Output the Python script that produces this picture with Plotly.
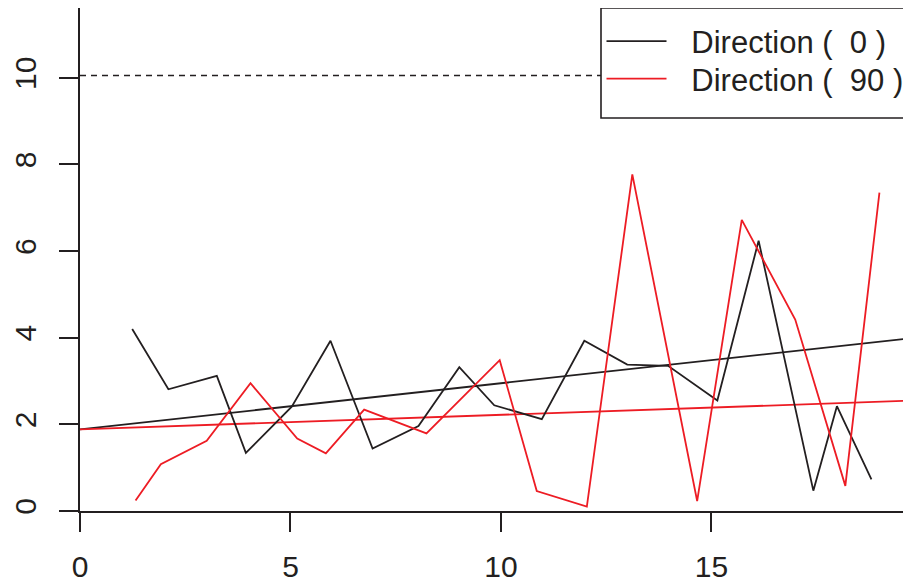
import plotly.graph_objects as go

# ---- data ----
dir0_x = [1.24, 2.10, 3.25, 3.94, 5.03, 5.95, 6.95, 8.04, 9.01, 9.84, 10.97,
          11.98, 13.00, 13.97, 15.14, 16.12, 17.42, 17.98, 18.80]
dir0_y = [4.20, 2.81, 3.12, 1.34, 2.41, 3.93, 1.44, 1.96, 3.32, 2.44, 2.12,
          3.93, 3.38, 3.35, 2.55, 6.24, 0.47, 2.42, 0.73]

dir90_x = [1.32, 1.92, 3.01, 4.05, 5.16, 5.84, 6.75, 8.23, 9.97, 10.85, 12.04,
           13.12, 14.66, 15.72, 16.99, 18.18, 18.99]
dir90_y = [0.24, 1.08, 1.62, 2.95, 1.67, 1.33, 2.34, 1.79, 3.48, 0.46, 0.10,
           7.77, 0.23, 6.72, 4.42, 0.58, 7.35]

trend_intercept = 1.885
trend0_slope = 0.1064
trend90_slope = 0.0335
threshold = 10.05

PAD = "\u00a0\u00a0\u200a"
labels = [PAD + "Direction (\u00a0\u00a00 )", PAD + "Direction (\u00a0\u00a090 )"]
x_ticks = [0, 5, 10, 15]
y_ticks = [0, 2, 4, 6, 8, 10]

x_range = [0, 19.74]
y_range = [0, 11.61]

BLACK = "#231F20"
RED = "#ED1C24"
FONT = "Liberation Sans, Arial, Helvetica, sans-serif"

# the page body adds an 8px offset; figure size and margins compensate for it
W, H = 903, 577
L, R, T, B = 72, 0, 0, 74
PW = W - L - R      # plot width in px
PH = H - T - B      # plot height in px

fig = go.Figure()

# threshold dashed line
fig.add_trace(go.Scatter(x=x_range, y=[threshold, threshold], mode="lines",
                         line=dict(color=BLACK, width=1.5, dash="6px,5px"),
                         showlegend=False, hoverinfo="skip"))

# trend lines
fig.add_trace(go.Scatter(x=x_range,
                         y=[trend_intercept + trend0_slope * v for v in x_range],
                         mode="lines", line=dict(color=BLACK, width=1.8),
                         showlegend=False, hoverinfo="skip"))
fig.add_trace(go.Scatter(x=x_range,
                         y=[trend_intercept + trend90_slope * v for v in x_range],
                         mode="lines", line=dict(color=RED, width=1.8),
                         showlegend=False, hoverinfo="skip"))

# data series
fig.add_trace(go.Scatter(x=dir0_x, y=dir0_y, mode="lines", name=labels[0],
                         line=dict(color=BLACK, width=1.8), legend="legend"))
fig.add_trace(go.Scatter(x=dir90_x, y=dir90_y, mode="lines", name=labels[1],
                         line=dict(color=RED, width=1.8), legend="legend2"))

# legend box (screen px 601..beyond, 8..118; plot area top at screen 8)
fig.add_shape(type="rect", xref="paper", yref="paper",
              x0=(601 - 80) / PW, x1=1.1, y0=(PH - 110) / PH, y1=1.0,
              line=dict(color=BLACK, width=1.6), fillcolor="white", layer="above")

leg_common = dict(x=(601.5 - 80) / PW, xanchor="left", yanchor="middle",
                  bgcolor="rgba(0,0,0,0)", borderwidth=0,
                  font=dict(family=FONT, size=31, color=BLACK), itemwidth=60)

fig.update_layout(
    width=W, height=H,
    margin=dict(l=L, r=R, t=T, b=B, autoexpand=False),
    paper_bgcolor="white", plot_bgcolor="white",
    font=dict(family=FONT, size=30, color=BLACK),
    showlegend=True,
    legend=dict(y=(PH - (41.5 - 8)) / PH, **leg_common),
    legend2=dict(y=(PH - (79.0 - 8)) / PH, **leg_common),
    xaxis=dict(range=x_range, tickvals=x_ticks, ticks="outside", ticklen=19,
               tickwidth=1.6, tickcolor=BLACK, showline=True, linewidth=2.2,
               linecolor=BLACK, mirror=True, showgrid=False, zeroline=False,
               ticklabelstandoff=9, tickfont=dict(size=30), automargin=False),
    yaxis=dict(range=y_range, tickvals=y_ticks, ticks="outside", ticklen=19,
               tickwidth=1.6, tickcolor=BLACK, showline=True, linewidth=2,
               linecolor=BLACK, showgrid=False, zeroline=False,
               tickangle=-90, ticklabelstandoff=11, tickfont=dict(size=30),
               automargin=False),
)

fig.write_html("out.html")
